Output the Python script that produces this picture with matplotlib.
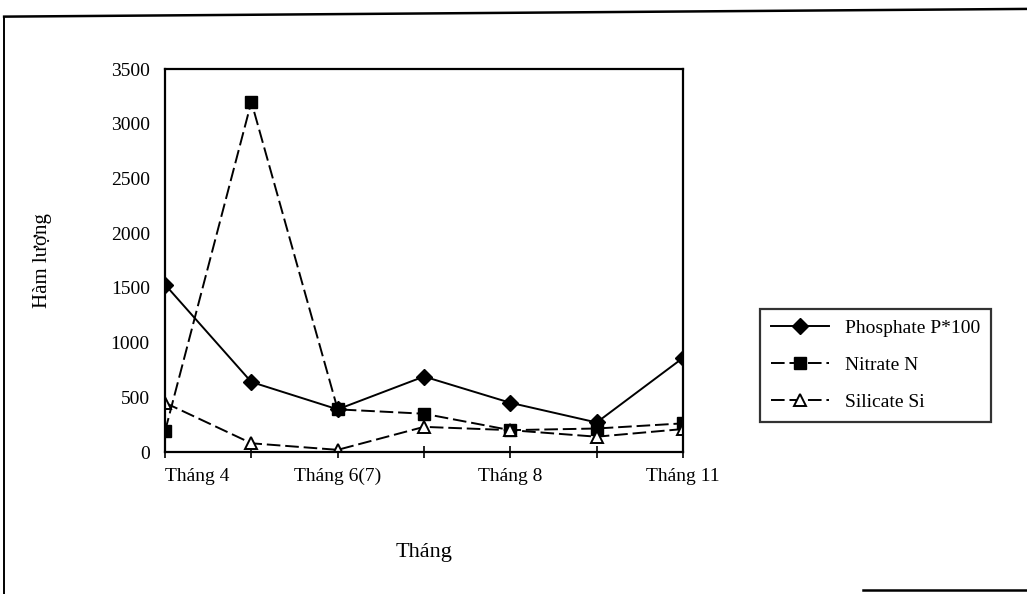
import numpy as np
import matplotlib.pyplot as plt
from matplotlib.lines import Line2D

plt.rcParams['font.family'] = ['Liberation Serif', 'DejaVu Serif']

# Data ==============================================
months = np.arange(7)
tick_pos = [0, 2, 4, 6]
tick_labels = ['Tháng 4', 'Tháng 6(7)', 'Tháng 8', 'Tháng 11']
phosphate = [1530, 640, 390, 690, 450, 270, 860]   # P*100
nitrate = [190, 3200, 390, 350, 200, 215, 262]
silicate = [450, 80, 20, 230, 200, 140, 210]

# Figure ============================================
fig = plt.figure(figsize=(10.27, 5.94), dpi=100)
ax = fig.add_axes([0.1607, 0.239, 0.5043, 0.6448])

ax.plot(months, phosphate, color='black', lw=1.4, marker='D', ms=8,
        label='Phosphate P*100')
ax.plot(months, nitrate, color='black', lw=1.4, ls=(0, (7, 2.5)), marker='s',
        ms=8, label='Nitrate N')
ax.plot(months, silicate, color='black', lw=1.4, ls=(0, (7, 2.5)), marker='^',
        ms=8, mfc='white', mew=1.4, label='Silicate Si')

ax.set_xlim(0, 6)
ax.set_ylim(0, 3500)
ax.set_yticks(np.arange(0, 3501, 500))
ax.set_xticks(tick_pos)
ax.set_xticklabels(tick_labels, va='baseline')
ax.get_xticklabels()[0].set_ha('left')
ax.set_xticks(months, minor=True)
ax.tick_params(axis='y', length=0, pad=11, labelsize=14)
ax.tick_params(axis='x', which='both', direction='inout', length=9,
               width=1.2, pad=16, labelsize=14)

for s in ax.spines.values():
    s.set_linewidth(1.6)

ax.set_ylabel('Hàm lượng', fontsize=15, labelpad=42)
ax.set_xlabel('Tháng', fontsize=16, labelpad=42)

leg = ax.legend(loc='center left', bbox_to_anchor=(1.149, 0.227), fontsize=14,
                handlelength=3.0, labelspacing=1.0, frameon=True,
                fancybox=False, edgecolor='black', borderpad=0.55,
                borderaxespad=0)
leg.get_frame().set_linewidth(1.6)

# Outer chart frame (partly cut off)
fig.add_artist(Line2D([0.004, 1.0], [0.972, 0.985], color='black', lw=1.8,
                      transform=fig.transFigure))
fig.add_artist(Line2D([0.004, 0.004], [0.0, 0.972], color='black', lw=1.4,
                      transform=fig.transFigure))
fig.add_artist(Line2D([0.84, 1.0], [0.006, 0.006], color='black', lw=1.8,
                      transform=fig.transFigure))

fig.savefig('out.png', dpi=100)
